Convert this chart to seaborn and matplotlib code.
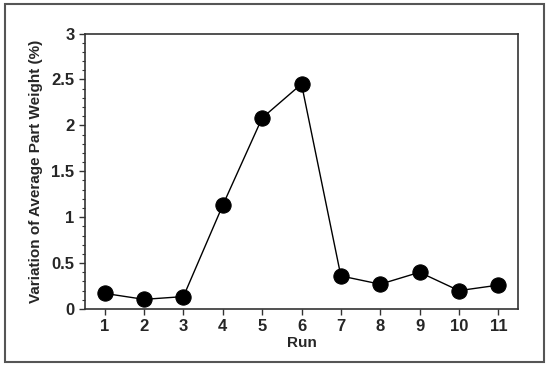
import matplotlib
matplotlib.use("Agg")
import matplotlib.pyplot as plt
import seaborn as sns
import pandas as pd
from matplotlib.ticker import MultipleLocator
from matplotlib.patches import Rectangle

runs = [1, 2, 3, 4, 5, 6, 7, 8, 9, 10, 11]
variation = [0.17, 0.105, 0.135, 1.13, 2.08, 2.45, 0.36, 0.27, 0.40, 0.20, 0.26]
y_ticks = [0, 0.5, 1, 1.5, 2, 2.5, 3]
y_tick_labels = ["0", "0.5", "1", "1.5", "2", "2.5", "3"]
x_label = "Run"
y_label = "Variation of Average Part Weight (%)"

df = pd.DataFrame({"Run": runs, "Variation": variation})

sns.set_style("white")
plt.rcParams["font.family"] = ["Liberation Sans", "DejaVu Sans"]

fig = plt.figure(figsize=(5.5, 3.7), dpi=100)
ax = fig.add_axes([85/550, 1 - 309/370, (518-85)/550, (309-33.5)/370])

sns.lineplot(data=df, x="Run", y="Variation", ax=ax, color="black",
             linewidth=1.0, marker="o", markersize=11, markeredgecolor="black",
             markerfacecolor="black")

ax.set_xlim(0.5, 11.5)
ax.set_ylim(0, 3)
ax.set_xticks(runs)
ax.set_xticklabels([str(r) for r in runs])
ax.set_yticks(y_ticks)
ax.set_yticklabels(y_tick_labels)
ax.yaxis.set_minor_locator(MultipleLocator(0.1))
ax.tick_params(axis="both", which="major", direction="out", length=4, width=1,
               labelsize=12, color="#333333", left=True, bottom=True)
ax.tick_params(axis="y", which="minor", direction="out", length=2.5, width=0.8,
               color="#333333", left=True)
for lbl in ax.get_xticklabels() + ax.get_yticklabels():
    lbl.set_fontweight("bold")
ax.set_xlabel(x_label, fontsize=11, fontweight="bold", labelpad=1)
ax.set_ylabel(y_label, fontsize=11, fontweight="bold", labelpad=6)
for s in ax.spines.values():
    s.set_color("#333333")
    s.set_linewidth(1.2)

fig.patches.append(Rectangle((5/550, 1 - 362/370), (544-5)/550, (362-4)/370,
                             transform=fig.transFigure, fill=False,
                             edgecolor="#555555", linewidth=1.5))

fig.savefig("out.png", dpi=100)
